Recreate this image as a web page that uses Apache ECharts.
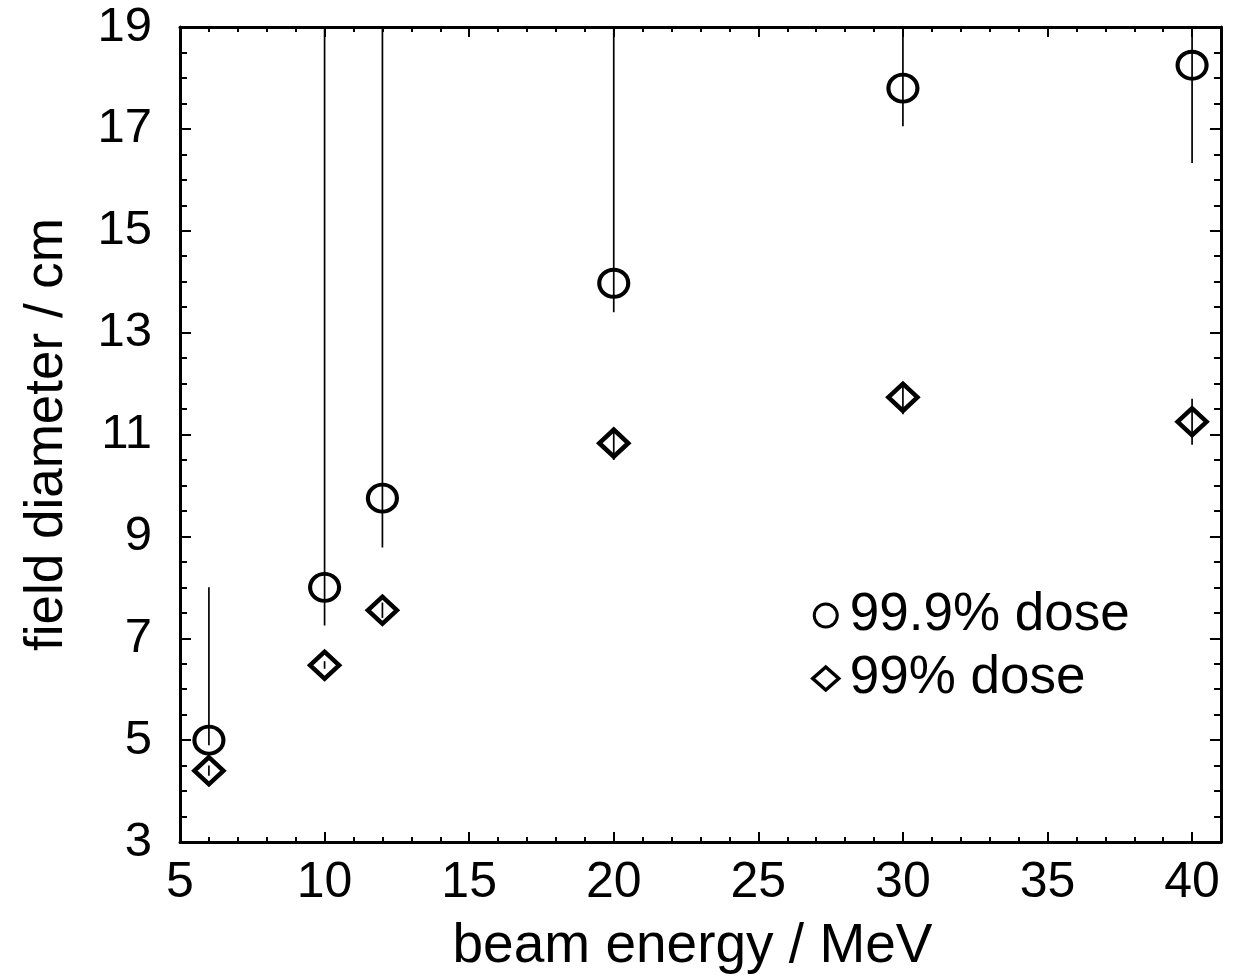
<!DOCTYPE html>
<html>
<head>
<meta charset="utf-8">
<script src="https://cdn.jsdelivr.net/npm/echarts@6/dist/echarts.min.js"></script>
<style>
html,body{margin:0;padding:0;background:#fff;}
#chart{width:1234px;height:979px;}
</style>
</head>
<body>
<div id="chart"></div>
<script>
// ---- data ----
const energies = [6, 10, 12, 20, 30, 40];
const dose999 = [5.0, 8.0, 9.75, 13.97, 17.8, 18.25];
const dose999Low = [4.9, 7.25, 8.78, 13.4, 17.05, 16.33];
const dose999High = [8.0, 19, 19, 19, 19, 19];
const dose99 = [4.4, 6.47, 7.55, 10.83, 11.73, 11.25];
const dose99Low = [4.3, 6.4, 7.4, 10.5, 11.4, 10.8];
const dose99High = [4.5, 6.55, 7.7, 11.1, 12.02, 11.7];
const seriesNames = ['99.9% dose', '99% dose'];
const xTitle = 'beam energy / MeV';
const yTitle = 'field diameter / cm';

const FONT = "'Liberation Sans', Arial, Helvetica, sans-serif";

const pts999 = energies.map((e, i) => [e, dose999[i]]);
const pts99 = energies.map((e, i) => [e, dose99[i]]);
const err999 = energies.map((e, i) => [e, dose999Low[i], dose999High[i]]);
const err99 = energies.map((e, i) => [e, dose99Low[i], dose99High[i]]);

function errRender(params, api) {
  const x = api.value(0), lo = api.value(1), hi = api.value(2);
  const p1 = api.coord([x, lo]);
  const p2 = api.coord([x, hi]);
  return {
    type: 'line',
    shape: { x1: p1[0], y1: p1[1], x2: p2[0], y2: p2[1] },
    style: { stroke: '#000', lineWidth: 1.7 }
  };
}

const lineStyle = { color: '#000', width: 3 };

function xAxisDef(pos, major, withLabels) {
  return {
    type: 'value', position: pos, min: 5, max: 41,
    interval: major ? 5 : 1,
    axisLine: { show: major, lineStyle: lineStyle },
    axisTick: { show: true, inside: true, length: major ? 10 : 5, lineStyle: { color: '#000', width: 2 } },
    axisLabel: withLabels ? {
      show: true, color: '#000', fontSize: 50, fontFamily: FONT, margin: 16, showMaxLabel: false
    } : { show: false },
    splitLine: { show: false },
    name: withLabels ? xTitle : '',
    nameLocation: 'middle', nameGap: 77,
    nameTextStyle: { color: '#000', fontSize: 55, fontFamily: FONT, padding: [0, 16, 0, 0] }
  };
}
function yAxisDef(pos, withLabels) {
  return {
    type: 'value', position: pos, min: 3, max: 19, interval: 2,
    axisLine: { show: true, lineStyle: lineStyle },
    axisTick: { show: true, inside: true, length: 11, lineStyle: { color: '#000', width: 2 } },
    minorTick: { show: true, splitNumber: 4, length: 7, lineStyle: { color: '#000', width: 2 } },
    axisLabel: withLabels ? {
      show: true, color: '#000', fontSize: 49, fontFamily: FONT, margin: 28
    } : { show: false },
    splitLine: { show: false },
    name: withLabels ? yTitle : '',
    nameLocation: 'middle', nameRotate: 90, nameGap: 106,
    nameTextStyle: { color: '#000', fontSize: 53, fontFamily: FONT }
  };
}

const chart = echarts.init(document.getElementById('chart'), null, { renderer: 'canvas' });
chart.setOption({
  backgroundColor: '#fff',
  animation: false,
  grid: { left: 180, top: 27, right: 13, bottom: 136, containLabel: false },
  xAxis: [
    xAxisDef('bottom', true, true),
    xAxisDef('bottom', false, false),
    xAxisDef('top', true, false),
    xAxisDef('top', false, false)
  ],
  yAxis: [
    yAxisDef('left', true),
    yAxisDef('right', false)
  ],
  legend: {
    orient: 'vertical', left: 806, top: 584,
    itemWidth: 26, itemHeight: 23, itemGap: 10,
    textStyle: { color: '#000', fontSize: 53, fontFamily: FONT, padding: [0, 0, 0, 6] },
    data: [
      { name: seriesNames[0], icon: 'circle', itemStyle: { color: 'rgba(0,0,0,0)', borderColor: '#000', borderWidth: 3 } },
      { name: seriesNames[1], icon: 'diamond', itemStyle: { color: 'rgba(0,0,0,0)', borderColor: '#000', borderWidth: 3.5 } }
    ]
  },
  series: [
    {
      type: 'custom', name: 'err999', renderItem: errRender, data: err999,
      encode: { x: 0, y: [1, 2] }, clip: true, z: 2, silent: true
    },
    {
      type: 'custom', name: 'err99', renderItem: errRender, data: err99,
      encode: { x: 0, y: [1, 2] }, clip: true, z: 2, silent: true
    },
    {
      type: 'scatter', name: seriesNames[0], data: pts999,
      symbol: 'circle', symbolSize: [29, 27], z: 3,
      itemStyle: { color: 'rgba(0,0,0,0)', borderColor: '#000', borderWidth: 4, opacity: 1 }
    },
    {
      type: 'scatter', name: seriesNames[1], data: pts99,
      symbol: 'diamond', symbolSize: [29, 27], z: 3,
      itemStyle: { color: 'rgba(0,0,0,0)', borderColor: '#000', borderWidth: 4.5, opacity: 1 }
    }
  ]
});
</script>
</body>
</html>
